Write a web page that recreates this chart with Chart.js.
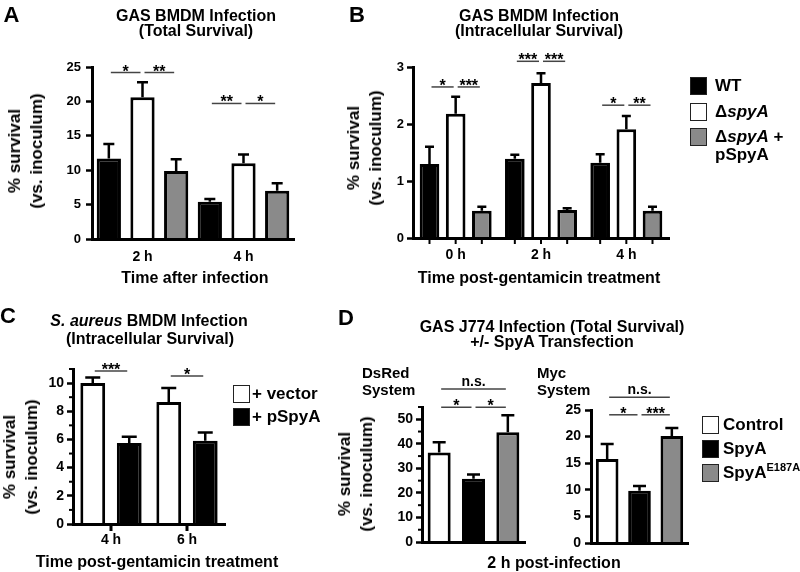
<!DOCTYPE html>
<html>
<head>
<meta charset="utf-8">
<script src="https://cdn.jsdelivr.net/npm/chart.js@4.4.0/dist/chart.umd.min.js"></script>
<style>
body { margin: 0; background: #fff; }
#fig { position: relative; width: 800px; height: 572px; overflow: hidden;
  font-family: "Liberation Sans", Arial, Helvetica, sans-serif; font-weight: bold; color: #000; }
#fig canvas { position: absolute; left: 0; top: 0; }
.t { position: absolute; white-space: nowrap; line-height: 1; transform: translate(-50%, -50%); }
.l { position: absolute; white-space: nowrap; line-height: 1; transform: translate(0, -50%); }
.yt { position: absolute; white-space: nowrap; text-align: center; font-size: 17px; line-height: 22px;
  transform: translate(-50%, -50%) rotate(-90deg); }
.lg { position: absolute; display: flex; align-items: flex-start; font-size: 17px; line-height: 18px; }
.bx { width: 17px; height: 18px; box-sizing: border-box; border: 1.5px solid #222; flex: none; }
sup { font-size: 11px; vertical-align: 7px; line-height: 0; }
</style>
</head>
<body>
<div id="fig"></div>
<script>
// ---- data (bar means and top of error bars) ----
// A: GAS BMDM infection, total survival
const catsA = ['2 h', '4 h'];
const wtA = [11.7, 5.4];
const wtA_err = [13.8, 5.8];
const dspyA_A = [20.6, 11.0];
const dspyA_A_err = [22.8, 12.3];
const compA = [9.9, 7.0];
const compA_err = [11.6, 8.1];

// B: GAS BMDM infection, intracellular survival
const catsB = ['0 h', '2 h', '4 h'];
const wtB = [1.3, 1.39, 1.32];
const wtB_err = [1.6, 1.46, 1.47];
const dspyA_B = [2.18, 2.72, 1.91];
const dspyA_B_err = [2.48, 2.89, 2.14];
const compB = [0.48, 0.49, 0.48];
const compB_err = [0.55, 0.52, 0.55];

// C: S. aureus BMDM infection
const catsC = ['4 h', '6 h'];
const vectorC = [10.0, 8.65];
const vectorC_err = [10.4, 9.65];
const pspyaC = [5.75, 5.9];
const pspyaC_err = [6.2, 6.5];

// D: GAS J774 infection, DsRed and Myc systems
const catsD = ['2 h'];
const dsredCtrl = [36.5], dsredCtrl_err = [40.6];
const dsredSpyA = [25.8], dsredSpyA_err = [27.5];
const dsredMut = [44.7], dsredMut_err = [51.6];
const mycCtrl = [15.8], mycCtrl_err = [18.6];
const mycSpyA = [9.8], mycSpyA_err = [10.7];
const mycMut = [20.1], mycMut_err = [21.6];

const seriesAB = ['WT', 'ΔspyA', 'ΔspyA + pSpyA'];
const seriesC = ['+ vector', '+ pSpyA'];
const seriesD = ['Control', 'SpyA', 'SpyA<sup>E187A</sup>'];

// significance bars: [category, left series, right series, height, label]
const sigA = [[0, 0, 1, 24.2, '*'], [0, 1, 2, 24.2, '**'], [1, 0, 1, 19.7, '**'], [1, 1, 2, 19.7, '*']];
const sigB = [[0, 0, 1, 2.65, '*'], [0, 1, 2, 2.65, '***'], [1, 0, 1, 3.1, '***'], [1, 1, 2, 3.1, '***'],
              [2, 0, 1, 2.33, '*'], [2, 1, 2, 2.33, '**']];
const sigC = [[0, 0, 1, 10.85, '***'], [1, 0, 1, 10.5, '*']];
const sigD1 = [[0, 0, 1, 54.9, '*'], [0, 1, 2, 54.9, '*'], [0, 0, 2, 62.3, 'n.s.']];
const sigD2 = [[0, 0, 1, 24.1, '*'], [0, 1, 2, 24.1, '***'], [0, 0, 2, 27.4, 'n.s.']];

const BLACK = '#000', WHITE = '#fff', GRAY = '#8a8a8a';
const FONT = '"Liberation Sans", Arial, Helvetica, sans-serif';
Chart.defaults.font.family = FONT;
Chart.defaults.color = '#000';

const fig = document.getElementById('fig');
const extras = {};

// error bars, significance lines, minor ticks
Chart.register({
  id: 'marks',
  afterDraw(chart) {
    const ex = extras[chart.canvas.id];
    if (!ex) return;
    const ctx = chart.ctx, xs = chart.scales.x, ys = chart.scales.y, area = chart.chartArea;
    ctx.save();
    ctx.strokeStyle = '#000';
    chart.data.datasets.forEach((ds, di) => {
      chart.getDatasetMeta(di).data.forEach((bar, i) => {
        const top = ys.getPixelForValue(ds.errTop[i]);
        ctx.lineWidth = 2.5;
        ctx.beginPath();
        ctx.moveTo(bar.x, bar.y);
        ctx.lineTo(bar.x, top);
        ctx.moveTo(bar.x - ex.cap / 2, top);
        ctx.lineTo(bar.x + ex.cap / 2, top);
        ctx.stroke();
        if (ex.barTicks) {
          ctx.lineWidth = 2;
          ctx.beginPath();
          ctx.moveTo(bar.x, area.bottom + 1);
          ctx.lineTo(bar.x, area.bottom + 6);
          ctx.stroke();
        }
      });
    });
    if (ex.catTicks) {
      chart.data.labels.forEach((c, i) => {
        const x = xs.getPixelForValue(i);
        ctx.lineWidth = 3;
        ctx.beginPath();
        ctx.moveTo(x, area.bottom + 1);
        ctx.lineTo(x, area.bottom + 7);
        ctx.stroke();
      });
    }
    (ex.minor || []).forEach(v => {
      const y = ys.getPixelForValue(v);
      ctx.lineWidth = 2;
      ctx.beginPath();
      ctx.moveTo(area.left - 4, y);
      ctx.lineTo(area.left, y);
      ctx.stroke();
    });
    ctx.fillStyle = '#000';
    ctx.textAlign = 'center';
    ctx.textBaseline = 'alphabetic';
    ex.sig.forEach(([c, a, b, v, label]) => {
      const x1 = chart.getDatasetMeta(a).data[c].x + 2;
      const x2 = chart.getDatasetMeta(b).data[c].x - 2;
      const y = ys.getPixelForValue(v);
      ctx.strokeStyle = '#444';
      ctx.lineWidth = 1.5;
      ctx.beginPath();
      ctx.moveTo(x1, y);
      ctx.lineTo(x2, y);
      ctx.stroke();
      if (label === 'n.s.') {
        ctx.font = 'bold 14px ' + FONT;
        ctx.fillText(label, (x1 + x2) / 2, y - 3);
      } else {
        ctx.font = 'bold 16px ' + FONT;
        ctx.fillText(label, (x1 + x2) / 2, y + 4);
      }
    });
    ctx.restore();
  }
});

const YW = 40, XH = 26;

function panel(id, area, cats, sets, y, x, ex) {
  const cv = document.createElement('canvas');
  cv.id = id;
  cv.width = 800;
  cv.height = 572;
  fig.appendChild(cv);
  extras[id] = ex;
  return new Chart(cv, {
    type: 'bar',
    data: {
      labels: cats,
      datasets: sets.map(s => ({
        data: s[0], errTop: s[1], backgroundColor: s[2],
        borderColor: '#000', borderWidth: 3,
        categoryPercentage: x.cat, barPercentage: x.bar
      }))
    },
    options: {
      responsive: false,
      animation: false,
      events: [],
      layout: {
        autoPadding: false,
        padding: { left: area.L - YW, right: 800 - area.R, top: area.T, bottom: 572 - area.B - XH }
      },
      plugins: { legend: { display: false }, tooltip: { enabled: false } },
      scales: {
        x: {
          afterFit: s => { s.height = XH; },
          border: { color: '#000', width: 3, z: 1 },
          grid: { display: false, drawTicks: false },
          ticks: { display: x.labels, font: { size: 14, weight: 'bold' }, padding: x.pad, color: '#000' }
        },
        y: {
          min: 0, max: y.max,
          afterFit: s => { s.width = YW; },
          afterBuildTicks: s => { s.ticks = s.ticks.filter(t => t.value % y.label === 0 && t.value <= y.top); },
          border: { color: '#000', width: 3, z: 1 },
          grid: { drawOnChartArea: false, tickLength: 6, tickWidth: 2.5, color: '#000' },
          ticks: { stepSize: y.step, font: { size: y.font, weight: 'bold' }, padding: y.pad, color: '#000' }
        }
      }
    }
  });
}

panel('chartA', { L: 92, R: 294, T: 67, B: 239 }, catsA,
  [[wtA, wtA_err, BLACK], [dspyA_A, dspyA_A_err, WHITE], [compA, compA_err, GRAY]],
  { max: 25, step: 5, label: 5, top: 25, font: 13, pad: 5 },
  { cat: 1.0, bar: 0.72, labels: true, pad: 10 },
  { cap: 11, sig: sigA });

panel('chartB', { L: 413, R: 669, T: 67, B: 238 }, catsB,
  [[wtB, wtB_err, BLACK], [dspyA_B, dspyA_B_err, WHITE], [compB, compB_err, GRAY]],
  { max: 3, step: 1, label: 1, top: 3, font: 13, pad: 3 },
  { cat: 0.92, bar: 0.75, labels: true, pad: 9 },
  { cap: 9, sig: sigB, barTicks: true });

panel('chartC', { L: 73, R: 225, T: 369, B: 524 }, catsC,
  [[vectorC, vectorC_err, WHITE], [pspyaC, pspyaC_err, BLACK]],
  { max: 11, step: 1, label: 2, top: 10, font: 14, pad: 3 },
  { cat: 0.96, bar: 0.68, labels: true, pad: 8 },
  { cap: 15, sig: sigC, catTicks: true, minor: [1, 3, 5, 7, 9, 11] });

panel('chartD1', { L: 422, R: 525, T: 407, B: 542 }, catsD,
  [[dsredCtrl, dsredCtrl_err, WHITE], [dsredSpyA, dsredSpyA_err, BLACK], [dsredMut, dsredMut_err, GRAY]],
  { max: 55, step: 5, label: 10, top: 50, font: 14, pad: 3 },
  { cat: 1.0, bar: 0.67, labels: false, pad: 4 },
  { cap: 13, sig: sigD1, minor: [5, 15, 25, 35, 45, 55] });

panel('chartD2', { L: 591, R: 688, T: 410, B: 543 }, catsD,
  [[mycCtrl, mycCtrl_err, WHITE], [mycSpyA, mycSpyA_err, BLACK], [mycMut, mycMut_err, GRAY]],
  { max: 25, step: 5, label: 5, top: 25, font: 14, pad: 4 },
  { cat: 1.0, bar: 0.7, labels: false, pad: 4 },
  { cap: 13, sig: sigD2 });

// ---- text ----
function text(html, x, y, size, cls) {
  const d = document.createElement('div');
  d.className = cls || 't';
  d.style.left = x + 'px';
  d.style.top = y + 'px';
  d.style.fontSize = size + 'px';
  d.innerHTML = html;
  fig.appendChild(d);
}
function ytitle(x, y) {
  const d = document.createElement('div');
  d.className = 'yt';
  d.style.left = x + 'px';
  d.style.top = y + 'px';
  d.innerHTML = '% survival<br>(vs. inoculum)';
  fig.appendChild(d);
}
function legend(x, y, gap, names, colors, space, wrap) {
  names.forEach((n, i) => {
    const row = document.createElement('div');
    row.className = 'lg';
    row.style.left = x + 'px';
    row.style.top = (y + i * gap - 9) + 'px';
    const label = n.replace(/Δ(spyA)/g, 'Δ<i>$1</i>');
    row.innerHTML = '<span class="bx" style="background:' + colors[i] + '"></span>' +
      '<span style="margin-left:' + space + 'px;' + (wrap ? 'width:' + wrap + 'px;white-space:normal' : 'white-space:nowrap') + '">' + label + '</span>';
    fig.appendChild(row);
  });
}

text('A', 11.5, 14.5, 22);
text('B', 357, 14.5, 22);
text('C', 8, 316, 22);
text('D', 346, 317.5, 22);

text('GAS BMDM Infection', 196, 15.5, 16);
text('(Total Survival)', 196, 30.5, 16);
text('GAS BMDM Infection', 539, 15.5, 16);
text('(Intracellular Survival)', 539, 30.5, 16);
text('<i>S. aureus</i> BMDM Infection', 149, 321, 16);
text('(Intracellular Survival)', 150, 339, 16);
text('GAS J774 Infection (Total Survival)', 552, 327, 16);
text('+/- SpyA Transfection', 552, 342, 16);

text('Time after infection', 195, 278, 16);
text('Time post-gentamicin treatment', 539, 278, 16);
text('Time post-gentamicin treatment', 157, 562, 16);
text('2 h post-infection', 554, 563, 16);

text('DsRed', 362, 372, 15, 'l');
text('System', 362, 389, 15, 'l');
text('Myc', 537, 372, 15, 'l');
text('System', 537, 389, 15, 'l');

ytitle(25.5, 151);
ytitle(364.5, 148);
ytitle(20.5, 457);
ytitle(355.5, 474);

legend(690, 86, 25.5, seriesAB, [BLACK, WHITE, GRAY], 8, 80);
legend(233, 394, 22.5, seriesC, [WHITE, BLACK], 2);
legend(702, 425, 24, seriesD, [WHITE, BLACK, GRAY], 4);
</script>
</body>
</html>
